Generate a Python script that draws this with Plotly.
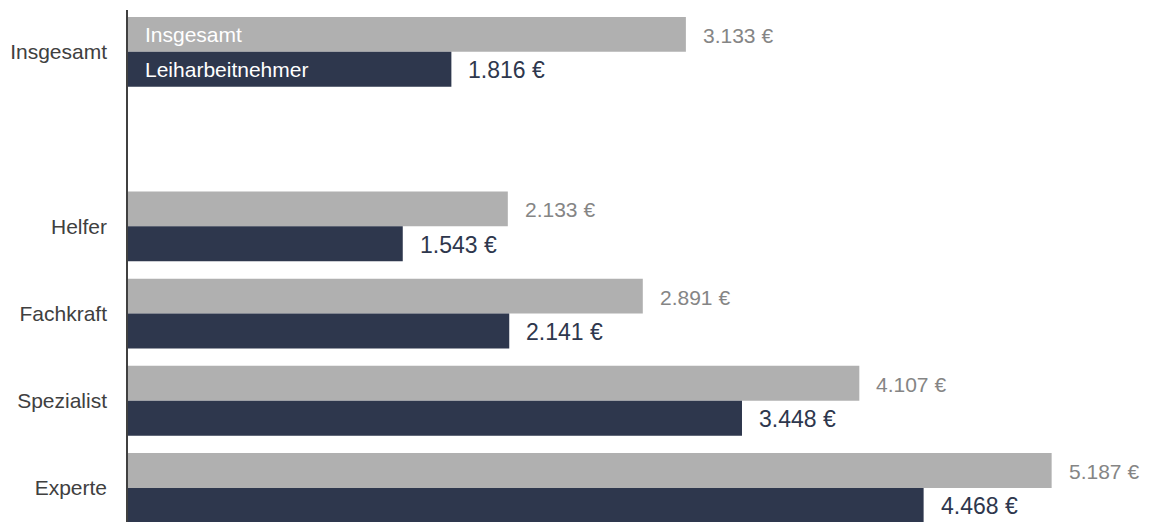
import plotly.graph_objects as go

categories = ["Insgesamt", "Helfer", "Fachkraft", "Spezialist", "Experte"]
positions = [0, 2, 3, 4, 5]
insgesamt = [3133, 2133, 2891, 4107, 5187]
leiharbeit = [1816, 1543, 2141, 3448, 4468]
series_names = ["Insgesamt", "Leiharbeitnehmer"]

GRAY = "#b0b0b0"
NAVY = "#2e374d"
FONT = "Liberation Sans, Arial, sans-serif"

def fmt(v):
    return f"{v:,}".replace(",", ".") + " €"

fig = go.Figure()
fig.add_trace(go.Bar(y=positions, x=insgesamt, orientation="h", offset=-0.4, width=0.4,
                     marker=dict(color=GRAY, line=dict(width=0)), name=series_names[0],
                     hoverinfo="x"))
fig.add_trace(go.Bar(y=positions, x=leiharbeit, orientation="h", offset=0.0, width=0.4,
                     marker=dict(color=NAVY, line=dict(width=0)), name=series_names[1],
                     hoverinfo="x"))

ann = []
for p, v in zip(positions, insgesamt):
    ann.append(dict(x=v, y=p - 0.2, text=fmt(v), xanchor="left", yanchor="middle",
                    xshift=15, yshift=-1, showarrow=False,
                    font=dict(size=21, color="#858585", family=FONT)))
for p, v in zip(positions, leiharbeit):
    ann.append(dict(x=v, y=p + 0.2, text=fmt(v), xanchor="left", yanchor="middle",
                    xshift=15, yshift=-1, showarrow=False,
                    font=dict(size=23, color=NAVY, family=FONT)))
# inline legend labels inside the first bars
ann.append(dict(x=0, y=positions[0] - 0.2, text=series_names[0], xanchor="left", yanchor="middle",
                xshift=15, showarrow=False, font=dict(size=21, color="white", family=FONT)))
ann.append(dict(x=0, y=positions[0] + 0.2, text=series_names[1], xanchor="left", yanchor="middle",
                xshift=15, showarrow=False, font=dict(size=21, color="white", family=FONT)))

fig.update_layout(
    width=1149, height=524,
    margin=dict(l=120, r=14, t=2, b=10),
    paper_bgcolor="white", plot_bgcolor="white",
    showlegend=False,
    barmode="overlay",
    annotations=ann,
    font=dict(family=FONT),
    xaxis=dict(range=[0, 5700], visible=False, showgrid=False, zeroline=False),
    yaxis=dict(range=[5.39, -0.48], tickvals=positions, ticktext=categories,
               showgrid=False, zeroline=False, showline=True, linecolor="#404040", linewidth=1.5,
               ticks="outside", ticklen=15, tickcolor="rgba(0,0,0,0)",
               tickfont=dict(size=21, color="#404040", family=FONT)),
)

fig.write_html("out.html")
